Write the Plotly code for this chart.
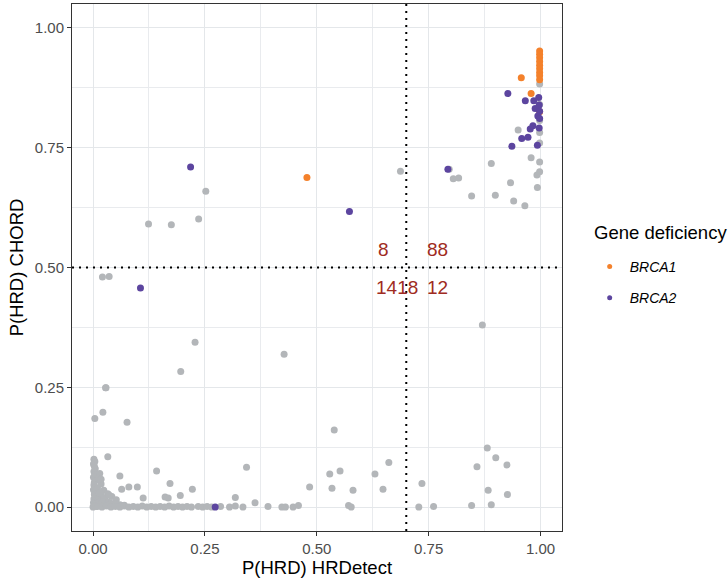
import plotly.graph_objects as go

# ---- data ----
gray_x = [
    # column at x ~ 0
    0.002, 0.004, 0.001, 0.003, 0.005, 0.002, 0.004, 0.001, 0.006, 0.003, 0.002, 0.005,
    0.001, 0.004, 0.003, 0.006, 0.002, 0.008, 0.001, 0.004, 0.003, 0.007,
    # dense triangle near origin
    0.010, 0.014, 0.018, 0.022, 0.012, 0.016, 0.025, 0.030, 0.035, 0.020, 0.028, 0.040,
    0.045, 0.050, 0.055, 0.060, 0.065, 0.070, 0.012, 0.018, 0.024, 0.033, 0.042, 0.052,
    0.015, 0.020, 0.026,
    # row at y ~ 0
    0.000, 0.010, 0.020, 0.030, 0.040, 0.050, 0.060, 0.070, 0.080, 0.090, 0.100, 0.110,
    0.120, 0.130, 0.140, 0.150, 0.160, 0.170, 0.180, 0.190, 0.200, 0.210, 0.220, 0.235,
    0.245, 0.255, 0.265, 0.285, 0.305, 0.318, 0.335, 0.362, 0.391, 0.422, 0.430, 0.447,
    0.459, 0.571, 0.577, 0.728, 0.761, 0.846,
    # scattered low points
    0.033, 0.142, 0.060, 0.018, 0.172, 0.064, 0.080, 0.099, 0.222, 0.343, 0.318, 0.195,
    0.161, 0.168, 0.112, 0.036, 0.015, 0.484, 0.529, 0.552, 0.534, 0.581, 0.630, 0.661,
    0.648, 0.735, 0.881, 0.900, 0.925, 0.858, 0.883, 0.926, 0.890, 0.539,
    # mid points
    0.028, 0.022, 0.004, 0.076, 0.228, 0.196, 0.427, 0.029, 0.021, 0.036, 0.124, 0.175,
    0.236, 0.252, 0.687, 0.870,
    # upper right
    0.805, 0.817, 0.846, 0.890, 0.899, 0.933, 0.940, 0.965, 0.979, 0.992, 0.993, 0.950,
    0.998, 0.998, 0.998, 0.998, 0.998, 0.998, 0.998, 0.796,
]
gray_y = [
    0.100, 0.095, 0.090, 0.085, 0.080, 0.074, 0.068, 0.062, 0.057, 0.052, 0.046, 0.041,
    0.036, 0.031, 0.026, 0.021, 0.017, 0.013, 0.009, 0.006, 0.003, 0.001,
    0.040, 0.030, 0.025, 0.020, 0.015, 0.012, 0.016, 0.012, 0.010, 0.008, 0.006, 0.008,
    0.005, 0.006, 0.004, 0.005, 0.003, 0.004, 0.060, 0.048, 0.035, 0.028, 0.022, 0.015,
    0.070, 0.010, 0.004,
    0.000, 0.001, 0.000, 0.002, 0.000, 0.001, 0.000, 0.002, 0.000, 0.001, 0.000, 0.002,
    0.000, 0.001, 0.000, 0.001, 0.000, 0.002, 0.000, 0.001, 0.000, 0.001, 0.000, 0.001,
    0.000, 0.001, 0.000, 0.001, 0.000, 0.002, 0.000, 0.009, 0.001, 0.000, 0.000, 0.000,
    0.003, 0.003, 0.000, 0.000, 0.001, 0.003,
    0.105, 0.075, 0.065, 0.058, 0.049, 0.037, 0.042, 0.042, 0.037, 0.083, 0.020, 0.024,
    0.021, 0.019, 0.019, 0.025, 0.030, 0.042, 0.069, 0.075, 0.039, 0.035, 0.069, 0.093,
    0.037, 0.049, 0.123, 0.103, 0.088, 0.084, 0.035, 0.026, 0.005, 0.161,
    0.249, 0.198, 0.185, 0.177, 0.344, 0.283, 0.319, 0.249, 0.480, 0.481, 0.591, 0.589,
    0.601, 0.659, 0.701, 0.380,
    0.685, 0.687, 0.649, 0.717, 0.651, 0.677, 0.639, 0.629, 0.729, 0.693, 0.667, 0.787,
    0.883, 0.807, 0.782, 0.760, 0.720, 0.700, 0.840, 0.705,
]

brca1_x = [0.998, 0.998, 0.998, 0.998, 0.998, 0.998, 0.998, 0.998, 0.998, 0.957, 0.979,
           0.998, 0.478]
brca1_y = [0.952, 0.945, 0.938, 0.930, 0.922, 0.915, 0.907, 0.900, 0.892, 0.896, 0.863,
           0.825, 0.688]

brca2_x = [0.927, 0.966, 0.985, 0.996, 0.988, 0.997, 0.994, 0.998, 0.983, 0.977, 0.997,
           0.958, 0.972, 0.936, 0.993, 0.793, 0.218, 0.573, 0.106, 0.273, 0.998]
brca2_y = [0.863, 0.848, 0.848, 0.855, 0.832, 0.839, 0.816, 0.811, 0.796, 0.789, 0.791,
           0.769, 0.772, 0.753, 0.755, 0.705, 0.710, 0.617, 0.457, 0.000, 0.826]

quad_labels = ["8", "88", "1418", "12"]
quad_x = [0.649, 0.770, 0.680, 0.770]
quad_y = [0.537, 0.537, 0.459, 0.459]

x_ticks = [0, 0.25, 0.5, 0.75, 1.0]
x_ticklabels = ["0.00", "0.25", "0.50", "0.75", "1.00"]
y_ticks = [0, 0.25, 0.5, 0.75, 1.0]
y_ticklabels = ["0.00", "0.25", "0.50", "0.75", "1.00"]

FONT = "Liberation Sans, Arial, Helvetica, sans-serif"
GRAY = "#B3B6B9"
ORANGE = "#F4812B"
PURPLE = "#5C459F"

fig = go.Figure()
fig.add_trace(go.Scatter(x=gray_x, y=gray_y, mode="markers", showlegend=False,
                         marker=dict(color=GRAY, size=7, line=dict(width=0))))
fig.add_trace(go.Scatter(x=brca1_x, y=brca1_y, mode="markers", showlegend=False,
                         marker=dict(color=ORANGE, size=7, line=dict(width=0))))
fig.add_trace(go.Scatter(x=brca2_x, y=brca2_y, mode="markers", showlegend=False,
                         marker=dict(color=PURPLE, size=7, line=dict(width=0))))
# legend entries (small keys as in the reference)
fig.add_trace(go.Scatter(x=[None], y=[None], mode="markers", name="<i>BRCA1</i>",
                         legendgroup="a", marker=dict(color=ORANGE, size=5)))
fig.add_trace(go.Scatter(x=[None], y=[None], mode="markers", name="<i>BRCA2</i>",
                         legendgroup="b", marker=dict(color=PURPLE, size=5)))

fig.add_vline(x=0.7, line=dict(color="black", width=2, dash="2px,5px"))
fig.add_hline(y=0.5, line=dict(color="black", width=2, dash="2px,5px"))

for t, xx, yy in zip(quad_labels, quad_x, quad_y):
    fig.add_annotation(x=xx, y=yy, text=t, showarrow=False,
                       font=dict(family=FONT, size=19, color="#9F2B22"))

fig.add_annotation(xref="paper", yref="paper", x=1.0606, y=0.5655,
                   xanchor="left", yanchor="middle", showarrow=False,
                   text="Gene deficiency",
                   font=dict(family=FONT, size=18.5, color="black"))

axis_common = dict(
    showgrid=True, gridcolor="#E4E7EA", gridwidth=1.4, zeroline=False,
    showline=True, mirror=True, linecolor="#333333", linewidth=1,
    ticks="outside", ticklen=4, tickcolor="#333333", tickwidth=1,
    tickfont=dict(family=FONT, size=15, color="#4D4D4D"),
    minor=dict(showgrid=True, gridcolor="#E9EBEE", gridwidth=1.0, dtick=0.125, tick0=0,
               ticks=""),
)

fig.update_layout(
    width=728, height=578,
    margin=dict(l=72, r=166, t=4, b=47),
    paper_bgcolor="white", plot_bgcolor="white",
    font=dict(family=FONT, color="black"),
    xaxis=dict(range=[-0.047, 1.048], tickvals=x_ticks, ticktext=x_ticklabels,
               title=dict(text="P(HRD) HRDetect", font=dict(family=FONT, size=18.5, color="black"),
                          standoff=2),
               **axis_common),
    yaxis=dict(range=[-0.05, 1.05], tickvals=y_ticks, ticktext=y_ticklabels,
               title=dict(text="P(HRD) CHORD", font=dict(family=FONT, size=18.5, color="black"),
                          standoff=6),
               **axis_common),
    legend=dict(
        x=1.0565, y=0.5313, xanchor="left", yanchor="top",
        font=dict(family=FONT, size=14, color="black"),
        tracegroupgap=10, traceorder="grouped",
        bgcolor="rgba(0,0,0,0)",
    ),
)

fig.write_html("out.html")
